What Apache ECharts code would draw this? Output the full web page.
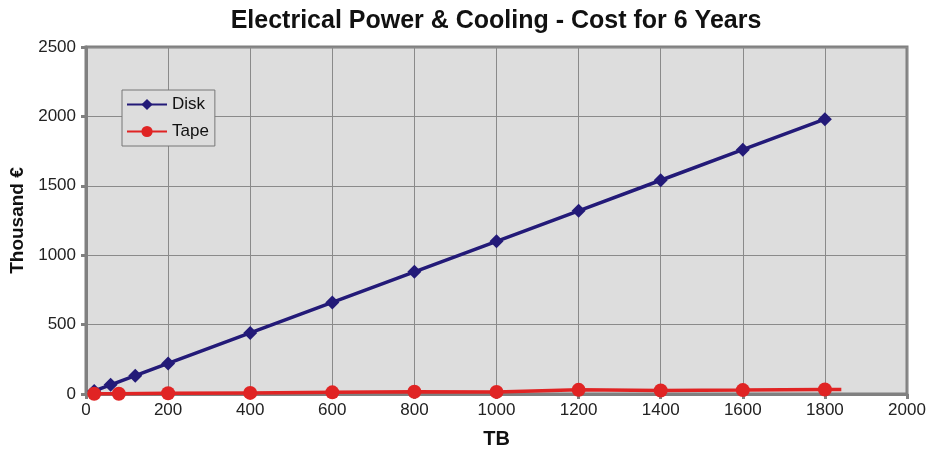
<!DOCTYPE html>
<html><head><meta charset="utf-8">
<script src="https://cdn.jsdelivr.net/npm/echarts@6/dist/echarts.min.js"></script>
<style>html,body{margin:0;padding:0;background:#fff}#c{width:927px;height:452px}</style>
</head><body><div id="c"></div>
<script>
const diskTB = [20, 60, 120, 200, 400, 600, 800, 1000, 1200, 1400, 1600, 1800];
const diskCost = [22, 66, 132, 220, 440, 660, 880, 1100, 1320, 1540, 1760, 1980];
const tapeTB = [20, 80, 200, 400, 600, 800, 1000, 1200, 1400, 1600, 1800, 1840];
const tapeCost = [2, 2, 5, 8, 12, 16, 15, 30, 25, 28, 32, 32];
const tapeMarked = [true, true, true, true, true, true, true, true, true, true, true, false];

const chart = echarts.init(document.getElementById('c'));
const font = 'Arial, "Liberation Sans", sans-serif';
chart.setOption({
  animation: false,
  title: { text: 'Electrical Power & Cooling - Cost for 6 Years', left: 491, top: 4, textAlign: 'center',
    textStyle: { fontFamily: font, fontSize: 25, fontWeight: 'bold', color: '#111' } },
  grid: { left: 86, right: 20, top: 47, bottom: 58, outerBoundsMode: 'none', containLabel: false,
    show: true, backgroundColor: '#dddddd', borderColor: '#808080', borderWidth: 3 },
  legend: {
    orient: 'vertical', left: 122, top: 90, itemGap: 10, itemWidth: 40, itemHeight: 14,
    backgroundColor: '#dddddd', borderColor: '#777', borderWidth: 1, padding: [6, 6, 6, 4],
    textStyle: { fontFamily: font, fontSize: 17, color: '#111' },
    data: ['Disk', 'Tape']
  },
  xAxis: {
    type: 'value', min: 0, max: 2000, interval: 200,
    name: 'TB', nameLocation: 'middle', nameGap: 35,
    nameTextStyle: { fontFamily: font, fontSize: 20, fontWeight: 'bold', color: '#111' },
    axisLine: { show: true, lineStyle: { color: '#808080', width: 3 } },
    axisTick: { show: true, length: 5, lineStyle: { color: '#808080', width: 3 } },
    axisLabel: { fontFamily: font, fontSize: 17, color: '#222', margin: 8, formatter: v => String(v) },
    splitLine: { show: true, lineStyle: { color: '#8a8a8a', width: 1 } }
  },
  yAxis: {
    type: 'value', min: 0, max: 2500, interval: 500,
    name: 'Thousand €', nameLocation: 'middle', nameGap: 51, nameRotate: 90,
    nameTextStyle: { fontFamily: font, fontSize: 19, fontWeight: 'bold', color: '#111' },
    axisLine: { show: true, lineStyle: { color: '#808080', width: 3 } },
    axisTick: { show: true, length: 5, lineStyle: { color: '#808080', width: 3 } },
    axisLabel: { fontFamily: font, fontSize: 17, color: '#222', margin: 10, formatter: v => String(v) },
    splitLine: { show: true, lineStyle: { color: '#8a8a8a', width: 1 } }
  },
  series: [
    { name: 'Disk', type: 'line', data: diskTB.map((x, i) => [x, diskCost[i]]),
      symbol: 'diamond', symbolSize: 14, color: '#231a78',
      lineStyle: { width: 3.5, color: '#231a78' }, itemStyle: { color: '#231a78' }, z: 2 },
    { name: 'Tape', type: 'line', data: tapeTB.map((x, i) => ({ value: [x, tapeCost[i]], symbol: tapeMarked[i] ? 'circle' : 'none' })),
      symbol: 'circle', symbolSize: 14, color: '#e02424', showAllSymbol: true,
      lineStyle: { width: 3.5, color: '#e02424' }, itemStyle: { color: '#e02424' }, z: 3 }
  ]
});
</script></body></html>
